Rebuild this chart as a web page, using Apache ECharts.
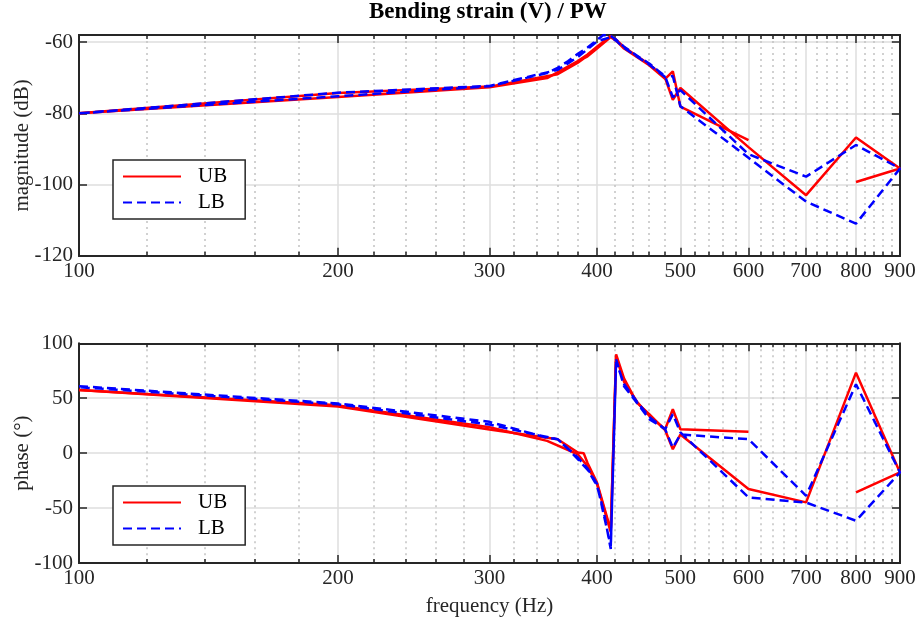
<!DOCTYPE html>
<html><head><meta charset="utf-8">
<script src="https://cdn.jsdelivr.net/npm/echarts@6/dist/echarts.min.js"></script>
<style>html,body{margin:0;padding:0;background:#fff}#c{width:920px;height:624px}</style>
</head><body><div id="c"></div>
<script>
// ---- tick labels ----
const xMajorTicks = [100, 200, 300, 400, 500, 600, 700, 800, 900];
const xMinorTicks = [120, 140, 160, 180, 220, 240, 260, 280, 320, 340, 360, 380, 420, 440, 460, 480,
                     520, 540, 560, 580, 620, 640, 660, 680, 720, 740, 760, 780, 820, 840, 860, 880];
const magTicks = [-120, -100, -80, -60];
const phaseTicks = [-100, -50, 0, 50, 100];

// ---- UB (red): upward sweep ----
const ubUpFreq  = [100, 200, 300, 350, 380, 390, 400, 415, 421, 430, 445, 460, 480, 490, 500, 600, 700, 800, 900, 800];
const ubUpMag   = [-80, -75.4, -72.7, -70.1, -65.3, -63.5, -61.3, -58.3, -59.3, -61.4, -63.9, -66.2, -70.1, -76.2, -72.9, -89.5, -103, -86.8, -95.5, -99.3];
const ubUpPhase = [57.5, 43.5, 23.5, 11.2, -1, -12, -28, -72, 90, 68, 46, 35.5, 21, 3.6, 17, -32.7, -44.8, 73.3, -17.6, -35.8];
// ---- UB (red): downward sweep ----
const ubDownFreq  = [600, 500, 490, 480, 460, 445, 430, 421, 415, 400, 390, 386, 380, 360, 300, 200, 100];
const ubDownMag   = [-87.5, -78.1, -68.2, -70.3, -66.5, -64.2, -61.8, -59.6, -58.6, -61.8, -64, -64.6, -65.8, -69, -72.5, -74.3, -80];
const ubDownPhase = [19.4, 21.8, 40, 21.8, 34, 47, 65, 88, -70, -26.7, -9, 0, 0.6, 12.7, 21.5, 42.5, 57.5];

// ---- LB (blue): upward sweep ----
const lbUpFreq  = [100, 200, 300, 350, 360, 370, 380, 390, 400, 407, 415, 421, 430, 445, 460, 480, 490, 500, 600, 700, 800, 900];
const lbUpMag   = [-80, -75.2, -72.4, -68.7, -67.2, -65.4, -63.3, -61.5, -59.4, -58, -58.3, -59.3, -61.3, -63.8, -66, -69.6, -75.5, -73.5, -91.5, -97.8, -88.9, -95.5];
const lbUpPhase = [61, 45.2, 28.5, 14, 12.7, 4, -5.5, -15, -29.7, -52, -87.3, 85.5, 61, 46, 31, 21.8, 5, 17, 12.7, -38.8, 62.7, -17.6];
// ---- LB (blue): downward sweep ----
const lbDownFreq  = [800, 700, 600, 500, 490, 480, 460, 445, 430, 421, 415, 400, 390, 380, 360, 300, 200, 100];
const lbDownMag   = [-111, -104.8, -92.5, -78, -69.5, -69.8, -66.3, -64, -61.6, -59.6, -58.6, -59.8, -62, -64.2, -67.8, -72.3, -74.2, -80];
const lbDownPhase = [-61.5, -45, -40.3, 19, 35.5, 21.8, 33, 47, 63, 83, -85, -28, -14, -4, 12.7, 26, 44.5, 60];

const FONT = '"Liberation Serif", "Times New Roman", serif';
const FS = 21;
const AX = '#262626';
const RED = '#ff0000', BLUE = '#0000ff';

function pairs(f, v) { return f.map((x, i) => [x, v[i]]); }

function xAx(grid, pos, vals, tickLen, showLabel, split, name) {
  const a = {
    type: 'log', logBase: 10, gridIndex: grid, min: 100, max: 900, position: pos,
    axisLine: { show: true, onZero: false, lineStyle: { color: AX, width: 2 } },
    axisTick: { show: true, inside: true, length: tickLen, customValues: vals, lineStyle: { color: AX, width: 1.5 } },
    axisLabel: { show: showLabel, customValues: vals, margin: 5, color: AX, fontFamily: FONT, fontSize: FS,
                 formatter: v => String(Math.round(v)) },
    splitLine: split ? { show: true, lineStyle: split } : { show: false },
    minorTick: { show: false }, minorSplitLine: { show: false }
  };
  if (name) {
    a.name = name; a.nameLocation = 'middle'; a.nameGap = 33;
    a.nameTextStyle = { fontFamily: FONT, fontSize: FS, color: AX };
  }
  return a;
}
function yAx(grid, pos, min, max, vals, showLabel, name) {
  const a = {
    type: 'value', gridIndex: grid, position: pos, min: min, max: max,
    axisLine: { show: true, onZero: false, lineStyle: { color: AX, width: 2 } },
    axisTick: { show: true, inside: true, length: 8, customValues: vals, lineStyle: { color: AX, width: 1.5 } },
    axisLabel: { show: showLabel, customValues: vals, margin: 6, color: AX, fontFamily: FONT, fontSize: FS },
    splitLine: { show: showLabel, lineStyle: { color: '#dedede', width: 1.5 } }
  };
  if (name) {
    a.name = name; a.nameLocation = 'middle'; a.nameGap = 46; a.nameMoveOverlap = false;
    a.nameTextStyle = { fontFamily: FONT, fontSize: FS, color: AX };
  }
  return a;
}
const majorSplit = { color: '#dedede', width: 1.5 };
const minorSplit = { color: '#c2c2c2', width: 1.5, type: [2, 4] };

function ser(name, data, xi, yi, color, dashed) {
  return {
    type: 'line', name: name, xAxisIndex: xi, yAxisIndex: yi, data: data,
    symbol: 'none', showSymbol: false, animation: false,
    lineStyle: { color: color, width: 2.5, type: dashed ? [9, 5] : 'solid' },
    itemStyle: { color: color }, emphasis: { disabled: true }
  };
}

function legend(top) {
  return {
    data: ['UB', 'LB'], orient: 'vertical', left: 113, top: top,
    backgroundColor: '#ffffff', borderColor: AX, borderWidth: 1.5,
    padding: [6, 18, 6, 9], itemWidth: 58, itemHeight: 14, itemGap: 5,
    itemStyle: { opacity: 0 },
    textStyle: { fontFamily: FONT, fontSize: FS, color: '#000', padding: [0, 0, 0, 12] },
    selectedMode: false
  };
}

const chart = echarts.init(document.getElementById('c'), null, { renderer: 'canvas' });
chart.setOption({
  animation: false,
  backgroundColor: '#ffffff',
  title: {
    text: 'Bending strain (V) / PW', left: 369, top: 0, padding: [1, 0, 0, 0],
    textStyle: { fontFamily: FONT, fontSize: 23, fontWeight: 'bold', color: '#000' }
  },
  legend: [legend(160), legend(486)],
  grid: [
    { left: 79, right: 20, top: 35, height: 220.7, outerBoundsMode: 'none', containLabel: false },
    { left: 79, right: 20, top: 343.3, height: 219.7, outerBoundsMode: 'none', containLabel: false }
  ],
  xAxis: [
    xAx(0, 'bottom', xMajorTicks, 8, true, majorSplit),
    xAx(0, 'bottom', xMinorTicks, 4, false, minorSplit),
    xAx(0, 'top', xMajorTicks, 8, false, null),
    xAx(0, 'top', xMinorTicks, 4, false, null),
    xAx(1, 'bottom', xMajorTicks, 8, true, majorSplit, 'frequency (Hz)'),
    xAx(1, 'bottom', xMinorTicks, 4, false, minorSplit),
    xAx(1, 'top', xMajorTicks, 8, false, null),
    xAx(1, 'top', xMinorTicks, 4, false, null)
  ],
  yAxis: [
    yAx(0, 'left', -120, -58, magTicks, true, 'magnitude (dB)'),
    yAx(0, 'right', -120, -58, magTicks, false),
    yAx(1, 'left', -100, 100, phaseTicks, true, 'phase (°)'),
    yAx(1, 'right', -100, 100, phaseTicks, false)
  ],
  series: [
    ser('UB', pairs(ubUpFreq, ubUpMag), 0, 0, RED, false),
    ser('UB', pairs(ubDownFreq, ubDownMag), 0, 0, RED, false),
    ser('LB', pairs(lbUpFreq, lbUpMag).concat(pairs(lbDownFreq, lbDownMag)), 0, 0, BLUE, true),
    ser('UB', pairs(ubUpFreq, ubUpPhase), 4, 2, RED, false),
    ser('UB', pairs(ubDownFreq, ubDownPhase), 4, 2, RED, false),
    ser('LB', pairs(lbUpFreq, lbUpPhase).concat(pairs(lbDownFreq, lbDownPhase)), 4, 2, BLUE, true)
  ]
});
</script></body></html>
